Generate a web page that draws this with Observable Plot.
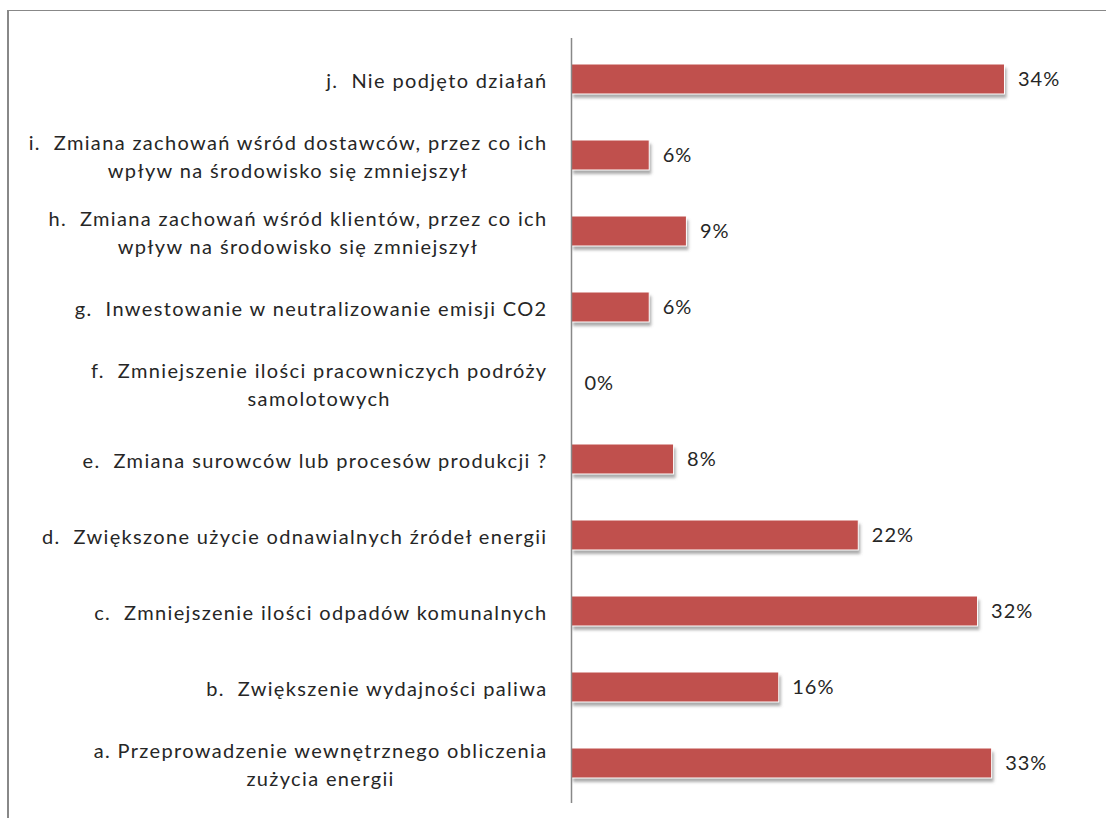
<!DOCTYPE html>
<html><head><meta charset="utf-8">
<script src="https://cdn.jsdelivr.net/npm/d3@7"></script>
<script src="https://cdn.jsdelivr.net/npm/@observablehq/plot@0.6"></script>
<style>
html,body{margin:0;padding:0;background:#fff;overflow:hidden;width:1106px;height:818px}
#frame{position:absolute;left:7px;top:10px;width:1200px;height:900px;border-top:1px solid #888;border-left:2px solid #888}
#chart{position:absolute;left:0;top:0}
</style></head><body>
<div id="frame"></div><div id="chart"></div>
<script>
// Categories, top to bottom
const categories = ["j", "i", "h", "g", "f", "e", "d", "c", "b", "a"];
const labels = [
  "j.  Nie podjęto działań",
  "i.  Zmiana zachowań wśród dostawców, przez co ich\nwpływ na środowisko się zmniejszył",
  "h.  Zmiana zachowań wśród klientów, przez co ich\nwpływ na środowisko się zmniejszył",
  "g.  Inwestowanie w neutralizowanie emisji CO2",
  "f.  Zmniejszenie ilości pracowniczych podróży\nsamolotowych",
  "e.  Zmiana surowców lub procesów produkcji ?",
  "d.  Zwiększone użycie odnawialnych źródeł energii",
  "c.  Zmniejszenie ilości odpadów komunalnych",
  "b.  Zwiększenie wydajności paliwa",
  "a. Przeprowadzenie wewnętrznego obliczenia\nzużycia energii"
];
const values = [33.8, 6.1, 9.0, 6.1, 0, 8.0, 22.4, 31.7, 16.2, 32.8];
const valueLabels = ["34%", "6%", "9%", "6%", "0%", "8%", "22%", "32%", "16%", "33%"];

const data = categories.map((c, i) => ({cat: c, label: labels[i], value: values[i], text: valueLabels[i]}));

const ink = "#262626";
const chart = Plot.plot({
  width: 1106,
  height: 818,
  marginLeft: 571,
  marginRight: 22,
  marginTop: 38,
  marginBottom: 15,
  style: {fontFamily: "Lato, 'Open Sans', sans-serif", fontSize: "20px", color: ink, background: "transparent"},
  x: {domain: [0, 40], axis: null},
  y: {domain: categories, paddingInner: 0.61, paddingOuter: 0.305, axis: null},
  marks: [
    Plot.barX(data, {y: "cat", x: "value", fill: "#666", fillOpacity: 0.55, dx: 2, dy: 4}),
    Plot.barX(data, {y: "cat", x: "value", fill: "#C0504D", stroke: "white", strokeWidth: 1}),
    Plot.ruleX([0], {stroke: "#888", strokeWidth: 1.5}),
    Plot.text(data, {y: "cat", text: "label", frameAnchor: "left", textAnchor: "end", dx: -24, lineHeight: 1.4, fill: ink}),
    Plot.text(data, {y: "cat", x: "value", text: "text", dx: 13, textAnchor: "start", fill: ink})
  ]
});
document.getElementById("chart").appendChild(chart);

// soft drop shadow
const svg = d3.select(chart);
const defs = svg.insert("defs", ":first-child");
defs.append("filter").attr("id", "shadow").attr("x", "-10%").attr("y", "-50%").attr("width", "120%").attr("height", "200%")
  .append("feGaussianBlur").attr("stdDeviation", 1.6);
const barGroups = chart.querySelectorAll('g[aria-label="bar"]');
if (barGroups.length) barGroups[0].setAttribute("filter", "url(#shadow)");

// wider letter spacing; center the lines of multi-line labels within a right-aligned block
const textGroups = chart.querySelectorAll('g[aria-label="text"]');
if (textGroups.length > 1) textGroups[1].setAttribute("letter-spacing", "1px");
if (textGroups.length) {
  textGroups[0].setAttribute("letter-spacing", "1.35px");
  textGroups[0].querySelectorAll("text").forEach(t => {
    const spans = t.querySelectorAll("tspan");
    if (spans.length > 1) {
      let w = 0;
      spans.forEach(s => { w = Math.max(w, s.getComputedTextLength()); });
      t.setAttribute("text-anchor", "middle");
      spans.forEach(s => s.setAttribute("x", -w / 2));
    }
  });
}
</script>
</body></html>
